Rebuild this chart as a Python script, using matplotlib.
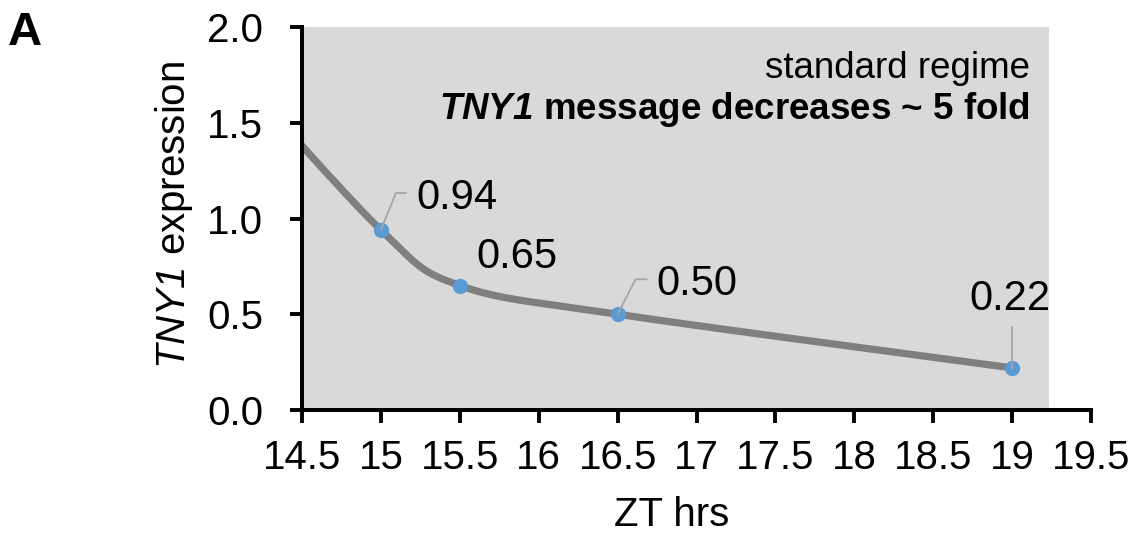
import numpy as np
import matplotlib
matplotlib.use("Agg")
import matplotlib.pyplot as plt
from matplotlib.patches import Rectangle
from matplotlib.lines import Line2D

plt.rcParams["font.family"] = ["Liberation Sans", "DejaVu Sans"]
# math segments are only used for the italic gene name, so every math face is italic
plt.rcParams["mathtext.fontset"] = "custom"
plt.rcParams["mathtext.rm"] = "Liberation Sans:italic"
plt.rcParams["mathtext.it"] = "Liberation Sans:italic"
plt.rcParams["mathtext.bf"] = "Liberation Sans:italic:bold"
plt.rcParams["mathtext.bfit"] = "Liberation Sans:italic:bold"

# ZT time points and TNY1 expression (first point lies left of the plotted window)
zt_hours = [14.0, 15.0, 15.5, 16.5, 19.0]
tny1_expr = [1.84, 0.94, 0.65, 0.50, 0.22]
labelled = [False, True, True, True, True]

x_ticks = [14.5, 15, 15.5, 16, 16.5, 17, 17.5, 18, 18.5, 19, 19.5]
x_tick_labels = ["14.5", "15", "15.5", "16", "16.5", "17", "17.5", "18", "18.5", "19", "19.5"]
y_ticks = [0.0, 0.5, 1.0, 1.5, 2.0]
y_tick_labels = ["0.0", "0.5", "1.0", "1.5", "2.0"]

LINE_GREY = "#7F7F7F"
MARKER_BLUE = "#5B9BD5"
PANEL_GREY = "#D9D9D9"
LEADER_GREY = "#A6A6A6"


def smooth_curve(xs, ys, n=60):
    """Bezier smoothing through the points (spreadsheet-style smoothed line)."""
    pts = np.column_stack([xs, ys]).astype(float)
    out = []
    for i in range(len(pts) - 1):
        p0 = pts[i]
        p1 = pts[i + 1]
        prev = pts[i - 1] if i > 0 else p0
        nxt = pts[i + 2] if i + 2 < len(pts) else p1
        c1 = p0 + (p1 - prev) / 6.0
        c2 = p1 - (nxt - p0) / 6.0
        t = np.linspace(0, 1, n)[:, None]
        seg = ((1 - t) ** 3) * p0 + 3 * ((1 - t) ** 2) * t * c1 + 3 * (1 - t) * t ** 2 * c2 + t ** 3 * p1
        out.append(seg if i == 0 else seg[1:])
    seg = np.vstack(out)
    return seg[:, 0], seg[:, 1]


fig = plt.figure(figsize=(11.34, 5.42), dpi=100)
ax = fig.add_axes([0.2663, 0.2435, 0.6958, 0.7067])
ax.set_xlim(14.5, 19.5)
ax.set_ylim(0, 2.0)

# plot area shading
ax.add_patch(Rectangle((0, 0), 0.9466, 1.0, transform=ax.transAxes,
                       facecolor=PANEL_GREY, edgecolor="none", zorder=0))

sx, sy = smooth_curve(zt_hours, tny1_expr)
ax.plot(sx, sy, color=LINE_GREY, lw=5.2, solid_capstyle="butt", zorder=2)

mx = [x for x, m in zip(zt_hours, labelled) if m]
my = [y for y, m in zip(tny1_expr, labelled) if m]
ax.plot(mx, my, "o", color=MARKER_BLUE, ms=11, mec="none", zorder=4)

# data labels: (text offset in px, leader path in px offsets, alignment)
label_layout = {
    15.0: dict(text=(35, 21), ha="left", leader=[(0, 0), (15, 37), (25, 37)]),
    15.5: dict(text=(17, 18), ha="left", leader=None),
    16.5: dict(text=(39, 19), ha="left", leader=[(0, 0), (18, 35), (29, 35)]),
    19.0: dict(text=(-2, 58), ha="center", leader=[(0, 0), (0, 41)]),
}
for x, y in zip(mx, my):
    px, py = ax.transData.transform((x, y))
    lay = label_layout[x]
    if lay["leader"]:
        lx = [px + dx for dx, dy in lay["leader"]]
        ly = [py + dy for dx, dy in lay["leader"]]
        fig.add_artist(Line2D(lx, ly, transform=None, color=LEADER_GREY, lw=1.3, zorder=3))
    ax.annotate(f"{y:.2f}", xy=(x, y), xytext=(lay["text"][0], lay["text"][1]),
                textcoords="offset pixels", ha=lay["ha"], va="baseline",
                fontsize=30, color="black", zorder=5)

ax.text(0.9225, 0.868, "standard regime", transform=ax.transAxes,
        ha="right", va="baseline", fontsize=26.5)
ax.text(0.9225, 0.760, r"$\mathbf{TNY1}$ message decreases ~ 5 fold", transform=ax.transAxes,
        ha="right", va="baseline", fontsize=26.5, fontweight="bold")

ax.set_xticks(x_ticks)
ax.set_xticklabels(x_tick_labels)
ax.set_yticks(y_ticks)
ax.set_yticklabels(y_tick_labels)
ax.tick_params(axis="x", direction="out", length=9, width=2.8, labelsize=29, pad=12)
ax.tick_params(axis="y", direction="out", length=9, width=2.8, labelsize=29, pad=19)

for side in ("top", "right"):
    ax.spines[side].set_visible(False)
for side in ("left", "bottom"):
    ax.spines[side].set_linewidth(2.9)

ax.set_xlabel("ZT hrs", fontsize=29)
ax.xaxis.set_label_coords(0.469, -0.225)
ax.set_ylabel(r"$\mathrm{TNY1}$ expression", fontsize=29)
ax.yaxis.set_label_coords(-0.135, 0.51)

fig.text(0.007, 0.917, "A", fontsize=34, fontweight="bold", ha="left", va="baseline")

fig.savefig("out.png", dpi=100)
